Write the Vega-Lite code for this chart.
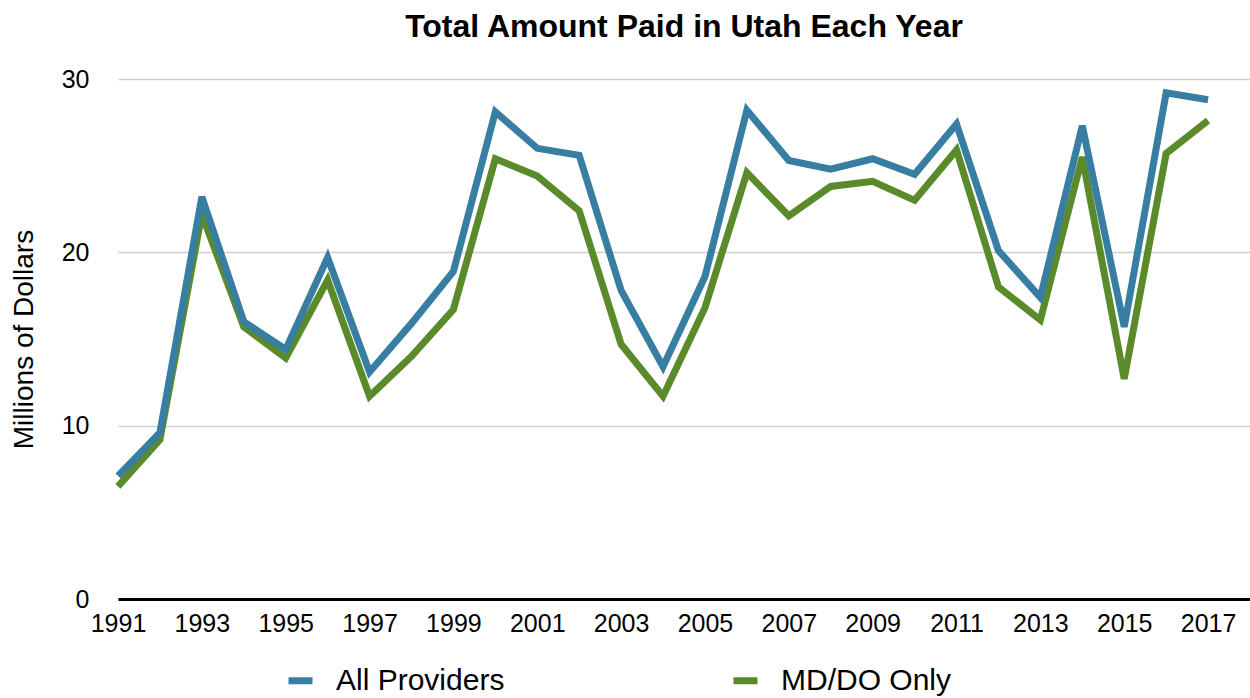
{
  "$schema": "https://vega.github.io/schema/vega-lite/v6.json",
  "autosize": {"type": "none"},
  "width": 1132,
  "height": 520,
  "padding": {"left": 118, "top": 79, "right": 0, "bottom": 99},
  "background": "white",
  "config": {"font": "Liberation Sans", "view": {"stroke": null}},
  "title": {"text": "Total Amount Paid in Utah Each Year", "font": "Liberation Sans", "fontSize": 32, "fontWeight": "bold", "color": "black", "anchor": "middle", "frame": "group", "offset": 23},
  "data": {"values": [
    {"year": 1991, "series": "All Providers", "value": 7.1}, {"year": 1991, "series": "MD/DO Only", "value": 6.5},
    {"year": 1992, "series": "All Providers", "value": 9.6}, {"year": 1992, "series": "MD/DO Only", "value": 9.2},
    {"year": 1993, "series": "All Providers", "value": 23.2}, {"year": 1993, "series": "MD/DO Only", "value": 22.2},
    {"year": 1994, "series": "All Providers", "value": 16.0}, {"year": 1994, "series": "MD/DO Only", "value": 15.7},
    {"year": 1995, "series": "All Providers", "value": 14.4}, {"year": 1995, "series": "MD/DO Only", "value": 13.9},
    {"year": 1996, "series": "All Providers", "value": 19.7}, {"year": 1996, "series": "MD/DO Only", "value": 18.4},
    {"year": 1997, "series": "All Providers", "value": 13.1}, {"year": 1997, "series": "MD/DO Only", "value": 11.7},
    {"year": 1998, "series": "All Providers", "value": 15.9}, {"year": 1998, "series": "MD/DO Only", "value": 14.0},
    {"year": 1999, "series": "All Providers", "value": 18.9}, {"year": 1999, "series": "MD/DO Only", "value": 16.7},
    {"year": 2000, "series": "All Providers", "value": 28.1}, {"year": 2000, "series": "MD/DO Only", "value": 25.4},
    {"year": 2001, "series": "All Providers", "value": 26.0}, {"year": 2001, "series": "MD/DO Only", "value": 24.4},
    {"year": 2002, "series": "All Providers", "value": 25.6}, {"year": 2002, "series": "MD/DO Only", "value": 22.4},
    {"year": 2003, "series": "All Providers", "value": 17.8}, {"year": 2003, "series": "MD/DO Only", "value": 14.7},
    {"year": 2004, "series": "All Providers", "value": 13.4}, {"year": 2004, "series": "MD/DO Only", "value": 11.7},
    {"year": 2005, "series": "All Providers", "value": 18.6}, {"year": 2005, "series": "MD/DO Only", "value": 16.8},
    {"year": 2006, "series": "All Providers", "value": 28.2}, {"year": 2006, "series": "MD/DO Only", "value": 24.6},
    {"year": 2007, "series": "All Providers", "value": 25.3}, {"year": 2007, "series": "MD/DO Only", "value": 22.1},
    {"year": 2008, "series": "All Providers", "value": 24.8}, {"year": 2008, "series": "MD/DO Only", "value": 23.8},
    {"year": 2009, "series": "All Providers", "value": 25.4}, {"year": 2009, "series": "MD/DO Only", "value": 24.1},
    {"year": 2010, "series": "All Providers", "value": 24.5}, {"year": 2010, "series": "MD/DO Only", "value": 23.0},
    {"year": 2011, "series": "All Providers", "value": 27.4}, {"year": 2011, "series": "MD/DO Only", "value": 25.9},
    {"year": 2012, "series": "All Providers", "value": 20.1}, {"year": 2012, "series": "MD/DO Only", "value": 18.0},
    {"year": 2013, "series": "All Providers", "value": 17.4}, {"year": 2013, "series": "MD/DO Only", "value": 16.1},
    {"year": 2014, "series": "All Providers", "value": 27.3}, {"year": 2014, "series": "MD/DO Only", "value": 25.5},
    {"year": 2015, "series": "All Providers", "value": 15.7}, {"year": 2015, "series": "MD/DO Only", "value": 12.7},
    {"year": 2016, "series": "All Providers", "value": 29.2}, {"year": 2016, "series": "MD/DO Only", "value": 25.7},
    {"year": 2017, "series": "All Providers", "value": 28.8}, {"year": 2017, "series": "MD/DO Only", "value": 27.6}
  ]},
  "encoding": {
    "x": {"field": "year", "type": "quantitative",
      "scale": {"domain": [1991, 2018], "nice": false, "zero": false},
      "axis": {"title": null, "values": [1991,1993,1995,1997,1999,2001,2003,2005,2007,2009,2011,2013,2015,2017], "format": "d",
        "labelFontSize": 25, "labelColor": "black", "labelFont": "Liberation Sans", "labelPadding": 12, "labelFlush": false,
        "ticks": false, "grid": false, "domainColor": "black", "domainWidth": 3, "zindex": 1}},
    "y": {"field": "value", "type": "quantitative",
      "scale": {"domain": [0, 30], "nice": false},
      "axis": {"title": "Millions of Dollars", "titleFontSize": 28, "titleFontWeight": "normal", "titleColor": "black", "titlePadding": 23,
        "values": [0, 10, 20, 30], "labelFontSize": 25, "labelColor": "black", "labelPadding": 29,
        "ticks": false, "domain": false, "grid": true, "gridColor": "#cfcfcf", "gridWidth": 1.3}},
    "color": {"field": "series", "type": "nominal",
      "scale": {"domain": ["All Providers", "MD/DO Only"], "range": ["#377ea2", "#5a8a2a"]},
      "legend": {"title": null, "orient": "none", "legendX": 167, "legendY": 586, "direction": "horizontal", "columns": 2,
        "columnPadding": 214, "symbolType": "stroke", "symbolStrokeWidth": 7, "symbolSize": 576,
        "labelFontSize": 30, "labelColor": "black", "labelOffset": 20, "labelLimit": 400}}
  },
  "layer": [
    {"transform": [{"filter": "datum.series === 'MD/DO Only'"}],
     "mark": {"type": "line", "strokeWidth": 7, "strokeJoin": "miter", "strokeCap": "butt"}},
    {"transform": [{"filter": "datum.series === 'All Providers'"}],
     "mark": {"type": "line", "strokeWidth": 7, "strokeJoin": "miter", "strokeCap": "butt"}}
  ]
}
